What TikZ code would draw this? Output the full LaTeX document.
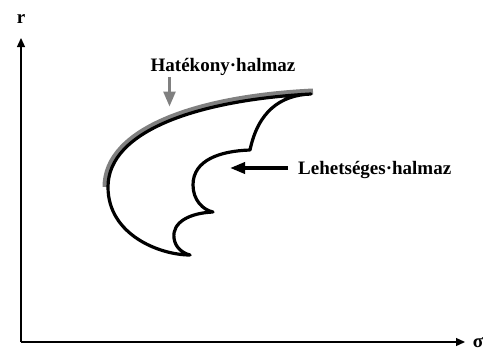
\documentclass[tikz,border=0pt]{standalone}
\usepackage{fontspec}
\setmainfont{Liberation Serif}
\usetikzlibrary{arrows.meta}
\definecolor{frontgray}{RGB}{128,128,128}
\tikzset{
  axis/.style={line width=1.3pt, -{Triangle[length=9pt,width=8pt]}},
  label/.style={font=\fontsize{19}{22}\selectfont\bfseries, inner sep=0pt},
  outline/.style={line width=3.2pt, line join=round, line cap=round},
  frontier/.style={line width=6pt, draw=frontgray},
  pointer/.style={line width=3.5pt, -{Triangle[length=15pt,width=11pt]}},
  graypointer/.style={line width=2.7pt, draw=frontgray, -{Triangle[length=15pt,width=12pt]}},
}
\begin{document}
\begin{tikzpicture}[x=1pt, y=-1pt]
  \useasboundingbox (0,0) rectangle (485,351);

  % axes
  \coordinate (O) at (21,342);
  \coordinate (ytop) at (21,38);
  \coordinate (xend) at (465,342);
  \draw[axis] (O) -- (ytop);
  \draw[axis] (O) -- (xend);
  \node[label, anchor=base] (rlab) at (21,23) {r};
  \node[label, anchor=base] (slab) at (478,347) {σ};

  % efficient frontier, gray band along the upper edge of the outline
  \draw[frontier] (105.5,187) .. controls (105.5,128.5) and (198.5,97) .. (313,91.5);

  % feasible set outline
  \draw[outline]
    (190,255) .. controls (160,255) and (108,235) .. (108,187)
    .. controls (108,130) and (200,100) .. (311,94)
    .. controls (280,95) and (258,112) .. (250,150)
    .. controls (220,151) and (193,160) .. (193,185)
    .. controls (193,200) and (203,210) .. (213,212)
    .. controls (190,213) and (172,222) .. (174,238)
    .. controls (175,247) and (182,253) .. (190,255);

  % labels and pointers
  \node[label, anchor=base] (hat) at (223,71) {Hatékony·halmaz};
  \coordinate (hattip) at (169.5,106.5);
  \draw[graypointer] ([yshift=-2pt]hat.south -| hattip) -- (hattip);

  \node[label, anchor=base west] (leh) at (298,174.5) {Lehetséges·halmaz};
  \coordinate (lehtip) at (230,168);
  \draw[pointer] ([xshift=-10pt]leh.west |- lehtip) -- (lehtip);
\end{tikzpicture}
\end{document}
